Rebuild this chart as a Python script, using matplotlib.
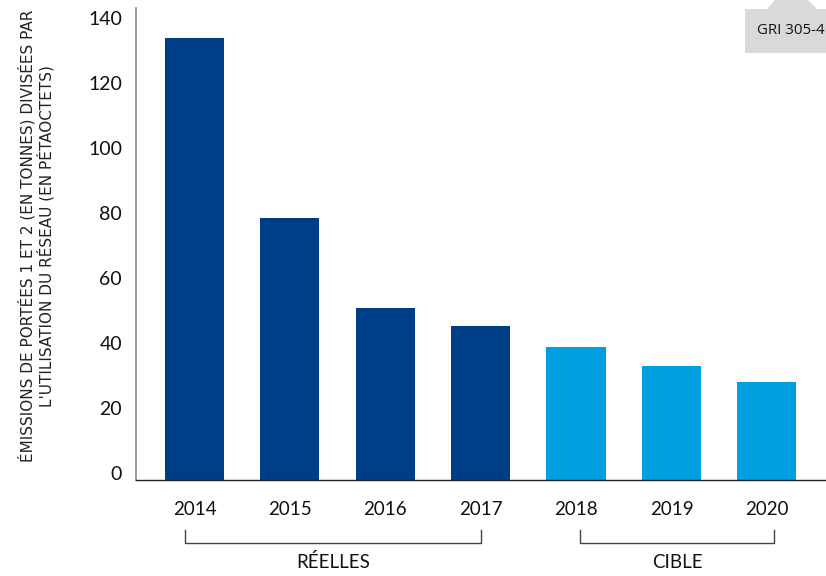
import matplotlib
matplotlib.use("Agg")
import matplotlib.pyplot as plt
from matplotlib.patches import Polygon
import matplotlib.transforms as mtransforms

years = ["2014", "2015", "2016", "2017", "2018", "2019", "2020"]
values = [136, 80.5, 53, 47.5, 41, 35, 30]
kinds = ["actual", "actual", "actual", "actual", "target", "target", "target"]
yticks = [0, 20, 40, 60, 80, 100, 120, 140]
ylabel = "ÉMISSIONS DE PORTÉES 1 ET 2 (EN TONNES) DIVISÉES PAR\nL'UTILISATION DU RÉSEAU (EN PÉTAOCTETS)"
group_labels = ["RÉELLES", "CIBLE"]
badge = "GRI 305-4"

dark = "#003d87"
light = "#00a0e3"

plt.rcParams['font.family'] = ['Lato', 'DejaVu Sans']

W, H = 826, 576
fig = plt.figure(figsize=(W / 100, H / 100), dpi=100)
ax = fig.add_axes([136 / W, 1 - 480 / H, 1 - 136 / W, 472 / H])

x = list(range(len(years)))
colors = [dark if k == "actual" else light for k in kinds]
ax.bar(x, values, width=0.62, color=colors, zorder=2)

ax.set_xlim(-0.613, 6.62)
ax.set_ylim(0, 145.2)
ax.set_yticks(yticks)
ax.set_yticklabels([str(t) for t in yticks], fontsize=14, color="#111111")
ax.set_xticks(x)
ax.set_xticklabels(years, fontsize=13.5, color="#111111")
ax.tick_params(axis="y", length=0, pad=10)
ax.tick_params(axis="x", length=0, pad=15)
shift = mtransforms.ScaledTranslation(0, 6.5 / 100, fig.dpi_scale_trans)
for lab in ax.get_yticklabels():
    lab.set_transform(lab.get_transform() + shift)

for s in ["top", "right"]:
    ax.spines[s].set_visible(False)
ax.spines["left"].set_color("#8a8a8a")
ax.spines["left"].set_linewidth(1.2)
ax.spines["bottom"].set_color("#222222")
ax.spines["bottom"].set_linewidth(1.0)

# y label
fig.text(36 / W, 1 - 236 / H, ylabel, rotation=90, ha="center", va="center",
         fontsize=11, color="#222222", multialignment="center",
         family=['DejaVu Sans'], linespacing=1.12)

# group brackets
trans = mtransforms.blended_transform_factory(ax.transData, fig.transFigure)
y_top = 1 - 530 / H
y_bot = 1 - 543 / H
for (x0, x1), lab in zip([(-0.1, 3.0), (4.04, 6.08)], group_labels):
    ax.plot([x0, x0, x1, x1], [y_top, y_bot, y_bot, y_top], transform=trans,
            color="#444444", lw=1.0, clip_on=False)
    t = fig.text(0, 1 - 562 / H, lab, transform=trans, ha="center", va="center",
                 fontsize=13.5, color="#111111")
    t.set_x((x0 + x1) / 2)

# badge
badge_poly = Polygon([[745 / W, 1 - 9 / H], [767 / W, 1 - 9 / H], [775 / W, 1.0],
                      [808 / W, 1.0], [817 / W, 1 - 9 / H], [826 / W, 1 - 9 / H],
                      [826 / W, 1 - 53 / H], [745 / W, 1 - 53 / H]], closed=True,
                     transform=fig.transFigure, facecolor="#d9d9d9", edgecolor="none")
fig.patches.append(badge_poly)
fig.text(757 / W, 1 - 31 / H, badge, ha="left", va="center", fontsize=10.8,
         color="#111111", family=['Open Sans', 'DejaVu Sans'])

fig.savefig("out.png", dpi=100)
